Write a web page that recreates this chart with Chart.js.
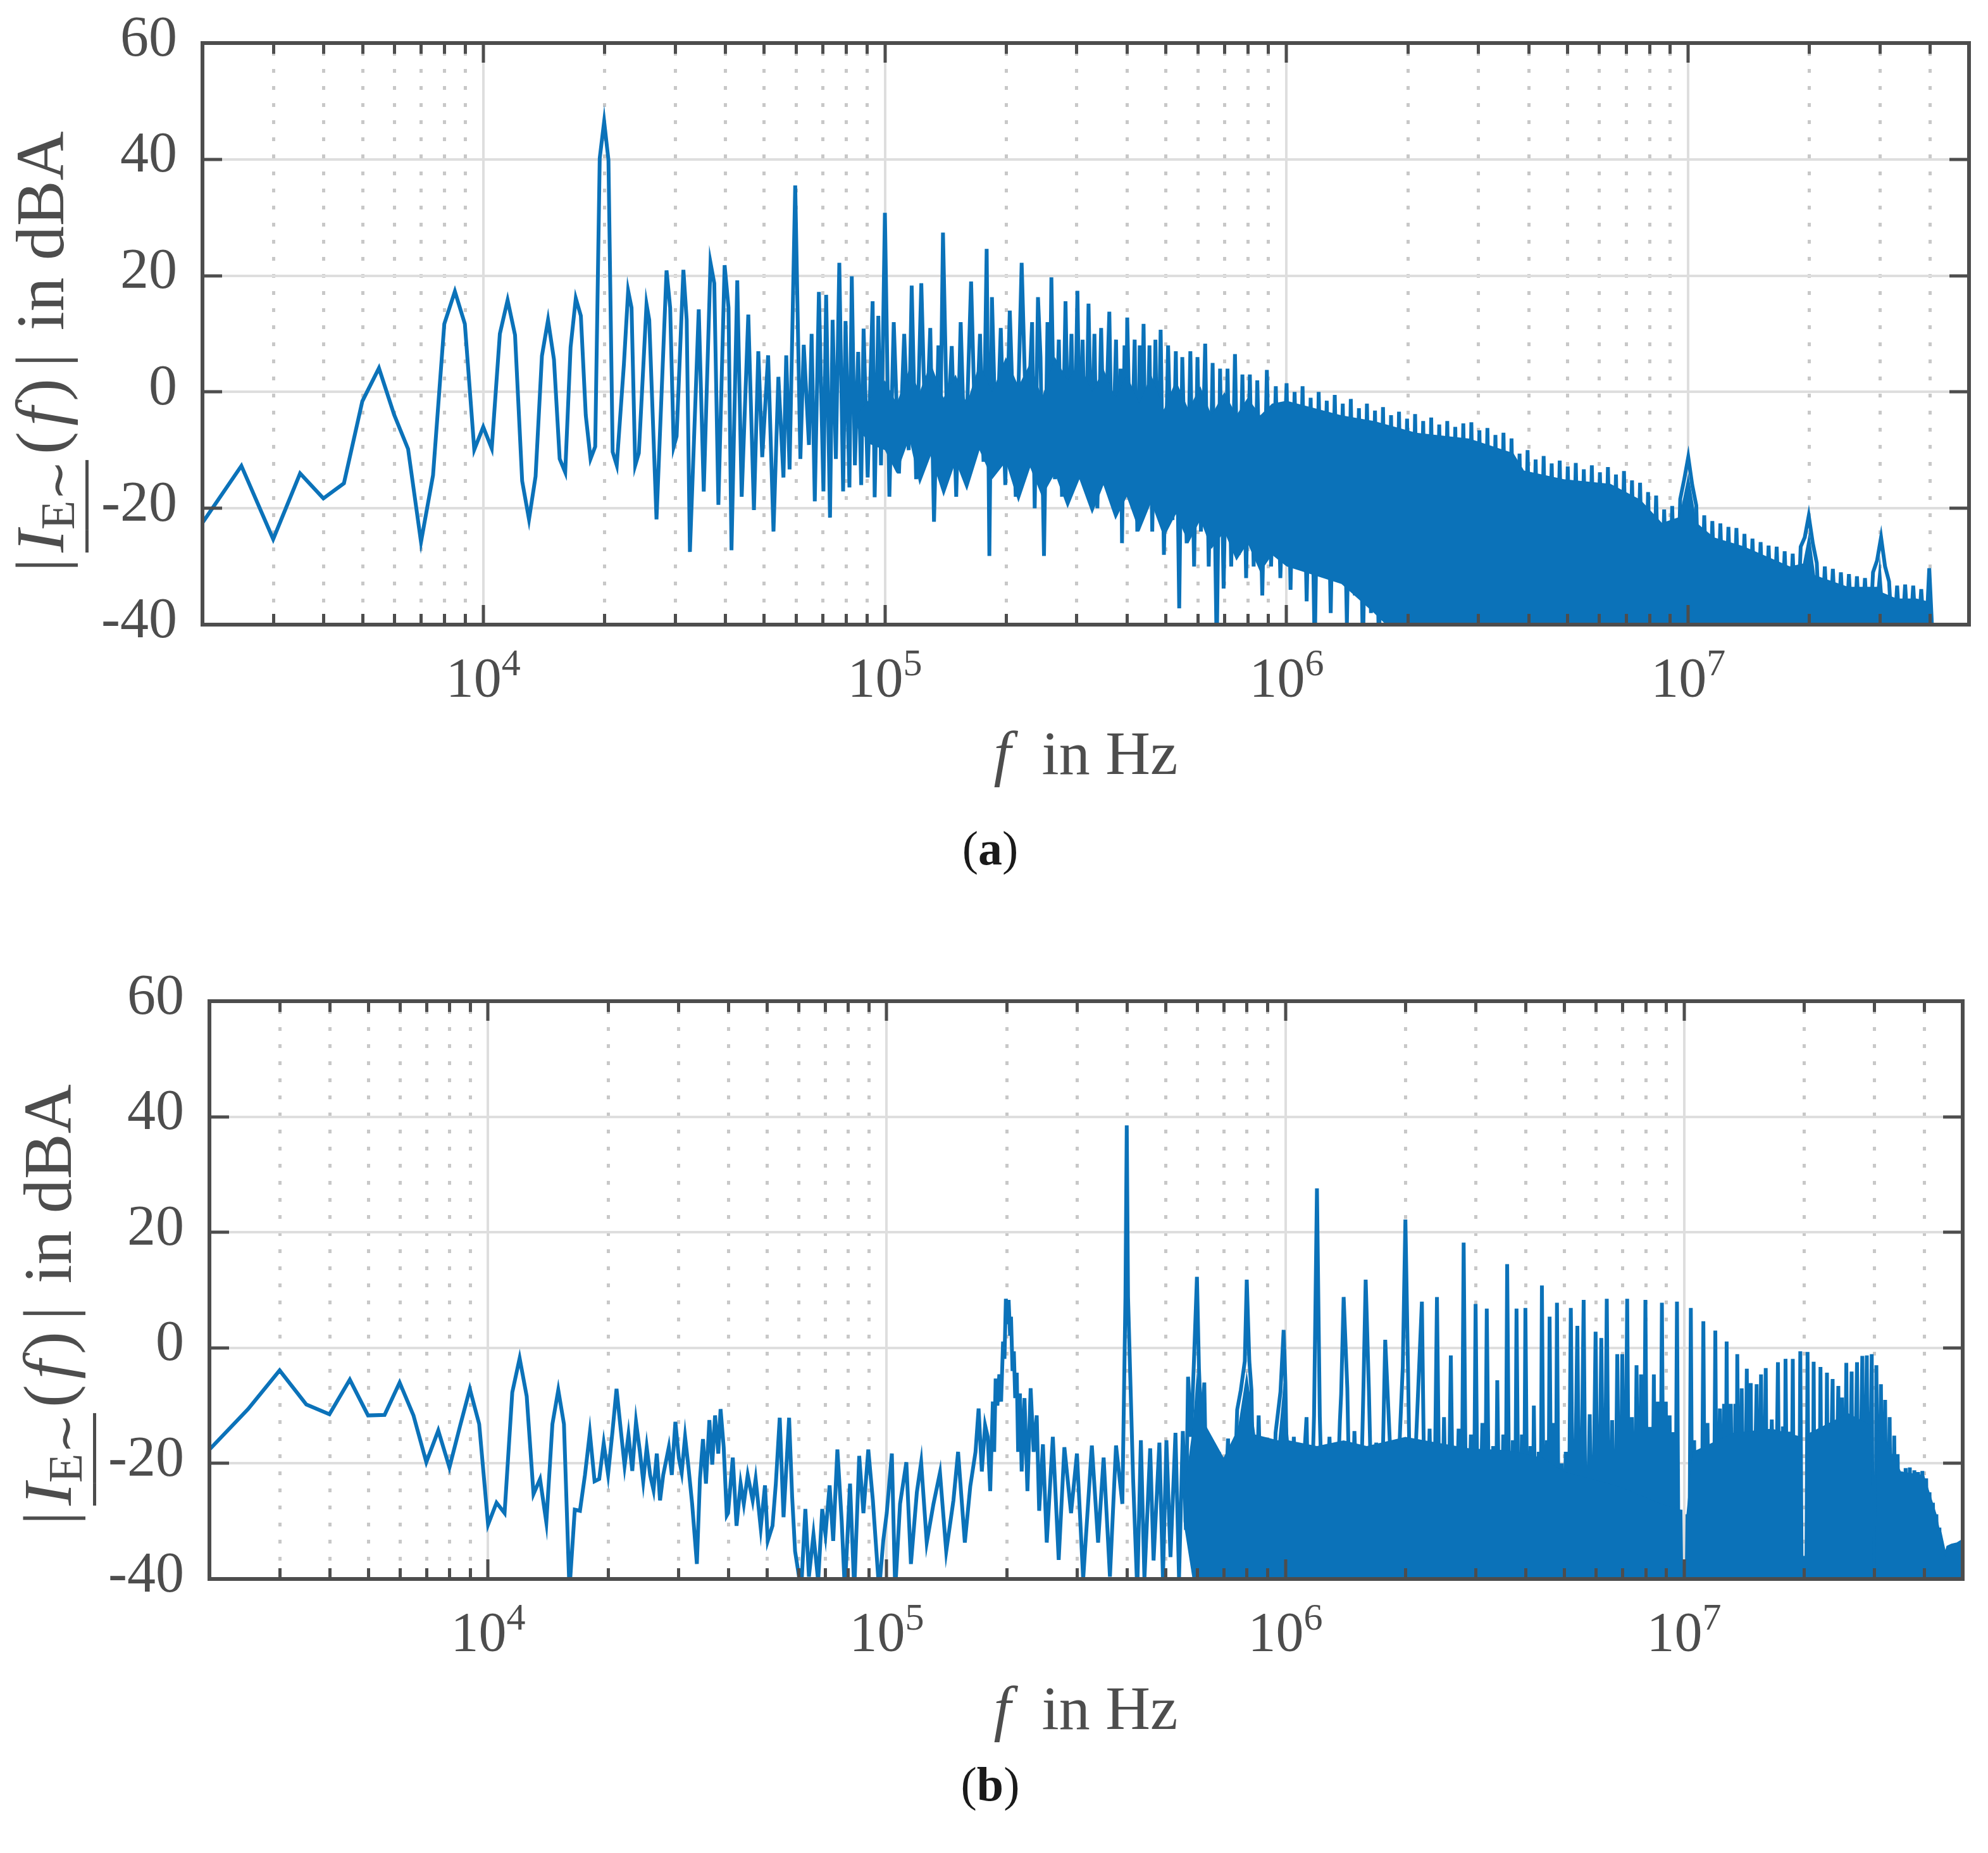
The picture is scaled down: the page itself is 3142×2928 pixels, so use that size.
<!DOCTYPE html>
<html>
<head>
<meta charset="utf-8">
<script src="https://cdn.jsdelivr.net/npm/chart.js"></script>
<style>
body { margin: 0; background: #fff; }
#page { position: relative; width: 3142px; height: 2928px; overflow: hidden; font-family: 'Liberation Serif', serif; color: #4d4d4d; }
canvas { position: absolute; left: 0; }
.ytitle { position: absolute; width: 1000px; height: 108px; line-height: 108px; font-size: 108px; text-align: center; white-space: nowrap; transform: rotate(-90deg); }
.ytitle sub { font-size: 70%; vertical-align: -0.22em; line-height: 0; }
.ytitle .m { margin: 0 9px; }
.ul { text-decoration: underline; text-decoration-thickness: 5px; text-underline-offset: 0.32em; text-decoration-skip-ink: none; }
.xtitle { position: absolute; width: 2000px; text-align: center; font-size: 98px; line-height: 98px; white-space: nowrap; }
.caption { position: absolute; width: 400px; text-align: center; font-size: 76px; line-height: 76px; color: #1a1a1a; }
</style>
</head>
<body>
<div id="page">
    <canvas id="chart-a" width="3142" height="1150" style="top:0px"></canvas>
    <canvas id="chart-b" width="3142" height="1200" style="top:1450px"></canvas>

    <div class="ytitle" style="left:-436px; top:506px"><span class="m">|</span><span class="ul"><i>I</i><sub>E∼</sub></span><span class="m">(</span><i>f</i><span class="m">)</span><span class="m">|</span> in dBA</div>
    <div class="xtitle" style="left:716px; top:1141px"><i>f</i>&nbsp; in Hz</div>
    <div class="caption" style="left:1365px; top:1302px">(<b>a</b>)</div>

    <div class="ytitle" style="left:-424px; top:2012px"><span class="m">|</span><span class="ul"><i>I</i><sub>E∼</sub></span><span class="m">(</span><i>f</i><span class="m">)</span><span class="m">|</span> in dBA</div>
    <div class="xtitle" style="left:716px; top:2650px"><i>f</i>&nbsp; in Hz</div>
    <div class="caption" style="left:1365px; top:2781px">(<b>b</b>)</div>
</div>

<script>
// frequencies in kHz, levels in dBA

// (a) measured trace
const freqA = [
    2, 2.5, 3, 3.5, 4, 4.5, 5, 5.5, 6, 6.5,
    7, 7.5, 8, 8.5, 9, 9.5, 10, 10.5, 11, 11.5,
    12, 12.5, 13, 13.5, 14, 14.5, 15, 15.5, 16, 16.5,
    17, 17.5, 18, 18.5, 19, 19.5, 20, 20.5, 21, 21.5,
    22.4, 22.95, 23.4, 23.9, 24.4, 25.5, 25.9, 27, 28.6, 29.2,
    29.8, 30.3, 31.5, 32.1, 32.7, 34.4, 35.4, 36.8, 37.6, 38.5,
    39.9, 40.8, 41.5, 42.9, 44, 45.7, 47.2, 48.4, 49.5, 51.2,
    52.8, 54.3, 55.9, 56.8, 57.9, 59.8, 61.6, 62.8, 64.7, 65.7,
    66.9, 68.5, 70.3, 71.4, 73, 74.1, 75.5, 77, 78.7, 79.8,
    81.6, 82.7, 84.2, 85.8, 87.3, 88.5, 90.6, 93.2, 94.3, 96.3,
    97.8, 100, 102.6, 105.2, 108.4, 111.7, 114.6, 116.6, 119.6, 123.2,
    126.4, 129.7, 132.5, 135.9, 137.5, 139.5, 143, 146.7, 150.5, 154.4,
    158.4, 163.9, 168.2, 172.5, 176, 179.2, 182, 184.7, 189.4, 194.3,
    199.4, 204.6, 211.7, 219, 225.7, 232.5, 236, 240.5, 244, 248.9,
    254, 257, 259.7, 265, 271, 276, 281.6, 286, 291.4, 296,
    301.5, 306, 310.6, 316, 321.3, 327, 332.4, 338, 345.4, 352,
    362, 368, 376.2, 382, 386, 389.3, 395, 398, 401.1, 410,
    418.6, 425, 431, 436, 440.5, 447, 455.7, 463, 471.5, 478,
    485.8, 495, 507, 520, 530, 540.4, 550, 564, 576, 588.5,
    600, 612, 627.1, 640, 654.5, 670, 683, 697, 712.8, 728,
    743.9, 760, 776.3, 793, 810.1, 828, 845.4, 870, 893.2, 915,
    940.1, 965, 1000, 1023, 1047, 1072, 1096, 1122, 1148, 1175,
    1202, 1230, 1259, 1288, 1318, 1349, 1380, 1413, 1445, 1479,
    1514, 1549, 1585, 1622, 1660, 1698, 1738, 1778, 1820, 1862,
    1905, 1950, 1995, 2042, 2089, 2138, 2188, 2239, 2291, 2344,
    2399, 2455, 2512, 2570, 2630, 2692, 2754, 2818, 2884, 2951,
    3020, 3090, 3162, 3236, 3311, 3388, 3467, 3548, 3631, 3715,
    3802, 3890, 3981, 4074, 4169, 4266, 4365, 4467, 4571, 4677,
    4786, 4898, 5012, 5129, 5248, 5370, 5495, 5623, 5754, 5888,
    6026, 6166, 6310, 6457, 6607, 6761, 6918, 7079, 7244, 7413,
    7586, 7762, 7943, 8128, 8318, 8511, 8710, 8913, 9120, 9333,
    9550, 9772, 10000, 10230, 10470, 10720, 10960, 11220, 11480, 11750,
    12020, 12300, 12590, 12880, 13180, 13490, 13800, 14130, 14450, 14790,
    15140, 15490, 15850, 16220, 16600, 16980, 17380, 17780, 18200, 18620,
    19050, 19500, 19950, 20420, 20890, 21380, 21880, 22390, 22910, 23440,
    23990, 24550, 25120, 25700, 26300, 26920, 27540, 28180, 28840, 29510,
    30200, 30900, 31620, 32360, 33110, 33880, 34670, 35480, 36310, 37150,
    38020, 38900, 39810, 40740
];
const levelA = [
    -22.5, -12.7, -25.3, -14, -18.3, -15.7, -1.6, 4.1, -3.9, -9.8,
    -25.8, -14.3, 11.7, 17.3, 11.7, -9.9, -6, -9.7, 10, 15.8,
    9.8, -15.3, -21.9, -14.5, 6.2, 12.4, 5.6, -11.5, -13.8, 7.7,
    16.1, 13.1, -4, -11.5, -9.4, 40.2, 46.5, 39.9, -10.3, -12.6,
    4.8, 17.4, 14.5, -12.6, -10.5, 15.1, 12.4, -21.9, 20.9, 14.5,
    -9.4, -7.6, 21, 12.4, -27.5, 14.2, -17.1, 22.2, 18.7, -19.4,
    21.8, 14.5, -27.2, 19.2, -18, 13.3, -20.3, 7, -11.2, 6.3,
    -24, 2.6, -14.7, 6.3, -13.3, 35.5, -11.5, 8.1, -9.1, 10,
    -18.8, 17.2, -17.1, 16.7, -21.6, 12.4, -11.5, 22.2, -17.1, 12.2,
    -16.4, 19.9, -12.6, 6.9, -16, 10.9, -14.7, 15.6, -18.1, 13.1,
    -12.6, 30.8, -18, 12, -14, 10, -10, 18.3, -15, 18.7,
    -10, 11, -22.3, 8, -6, 27.4, -8, 7.9, -18, 12,
    -14, 19, -10, 10, -12, 24.6, -28.2, 16.3, -12, 11,
    -16, 14, -18, 22.2, -10, 12, -20, 16.3, 6, -28.2,
    12, -8, 19.7, -15, 9, -18, 15.6, -10, 10, -14,
    17.4, -12, 9, -16, 15.2, -12, 10, -20, 11, -14,
    13.8, -16, 9, -20, 4, -26, 8, -14, 12.8, -18,
    9, -24, 8, -10, 11.7, -20, 8, -24, 9, -20,
    10.7, -28, 8, -22, 7, -37.2, 6, -26, 7, -30,
    6, -24, 8.3, -30, 5, -45, 4, -33.8, 4, -30,
    6.5, -28, 3, -32, 3, -30, 2, -35, 3.8, -30,
    1, -32, 1.5, -34, 0, -28, 1, -36, -1, -45,
    0, -30, -1.5, -38, -0.5, -32, -2, -40, -1.2, -35,
    -2.8, -45, -2, -38, -3.2, -45, -2.6, -45, -4, -45,
    -3.4, -45, -4.6, -45, -3.8, -45, -5, -45, -4.4, -45,
    -5.6, -45, -5, -45, -6, -45, -5.4, -45, -5.2, -45,
    -6.6, -45, -6.2, -45, -7.4, -45, -7, -45, -8, -45,
    -10.6, -45, -10, -45, -11.6, -45, -11, -45, -12.3, -45,
    -11.8, -45, -12.8, -45, -12.2, -45, -13.3, -45, -12.6, -45,
    -13.8, -45, -12.9, -45, -14.2, -45, -13.6, -45, -15.2, -45,
    -15.6, -45, -17.2, -45, -17.8, -45, -20.2, -45, -19.6, -45,
    -18.4, -15, -11.2, -16, -19.5, -45, -21.2, -45, -22.2, -45,
    -22.6, -45, -23.2, -45, -23.4, -45, -24.4, -45, -25.2, -45,
    -25.8, -45, -26.4, -45, -26.6, -45, -27.4, -45, -27.8, -45,
    -26.6, -25, -21.3, -26, -29.4, -45, -30, -45, -30.4, -45,
    -31, -45, -31.3, -45, -31.7, -45, -32, -45, -31, -29,
    -25, -30, -32.6, -45, -33.3, -45, -33.1, -45, -33.3, -45,
    -33.9, -45, -30.3, -45
];

// (a) dense part: upper and lower edge of the filled band
const bandFreqA = [
    85, 92, 100, 107, 115, 122, 130, 140, 150, 160,
    172, 185, 200, 215, 230, 246, 265, 285, 305, 328,
    350, 375, 400, 430, 460, 495, 530, 570, 610, 650,
    700, 750, 800, 860, 920, 1000, 1370, 1650, 2100, 2850,
    3670, 3900, 4900, 6400, 7600, 8600, 9500, 10000, 10500, 11600,
    13700, 17900, 19300, 20000, 20700, 25000, 29500, 30000, 30500, 33000,
    37000, 39500, 40000, 40800
];
const bandTopA = [
    -4, -1, 2, -2, 4, 0, 5, -1, 3, -2,
    5, 0, 6, 1, 5, -1, 6, 2, 5, 0,
    4, -1, 3, -2, 3, -3, 2, -3, 1, -4,
    0, -4, -1, -4, -2, -1.5, -4, -5, -7, -8,
    -10.5, -13.5, -15, -15.8, -18.5, -22.5, -21.5, -14, -22.5, -25,
    -26.5, -30, -29.5, -24, -31.5, -33.5, -33.5, -28, -34.5, -35.5,
    -35.5, -36, -33, -45
];
const bandBotA = [
    -6, -9, -10, -14, -8, -16, -11, -18, -12, -17,
    -10, -15, -12, -19, -13, -18, -14, -20, -15, -21,
    -16, -22, -18, -24, -19, -25, -21, -26, -22, -27,
    -24, -29, -26, -31, -28, -30, -33, -38, -45, -45,
    -45, -45, -45, -45, -45, -45, -45, -45, -45, -45,
    -45, -45, -45, -45, -45, -45, -45, -45, -45, -45,
    -45, -45, -45, -45
];

// (b) measured trace
const freqB = [
    2, 2.5, 3, 3.5, 4, 4.5, 5, 5.5, 6, 6.5,
    7, 7.5, 8, 8.5, 9, 9.5, 10, 10.5, 11, 11.5,
    12, 12.5, 13, 13.5, 14, 14.5, 15, 15.5, 16, 16.5,
    17, 17.5, 18, 18.5, 19, 19.5, 20, 20.5, 21, 21.5,
    22, 22.5, 23, 23.5, 24, 24.5, 25, 25.5, 26, 26.5,
    27, 27.5, 28.4, 28.9, 29.5, 30.1, 30.6, 31.2, 31.8, 32.5,
    33.4, 34, 34.6, 35.2, 35.9, 36.5, 37.1, 37.8, 38.3, 39,
    39.7, 40, 41.1, 42, 43, 43.8, 44.8, 46.1, 46.9, 48.3,
    49.5, 50.3, 51.7, 52.7, 53.9, 55.1, 56.9, 57.9, 58.9, 61,
    62.5, 63.8, 65.5, 67.3, 68.9, 70.2, 71.9, 73.4, 75.2, 77.1,
    78.5, 80.9, 82.9, 85.3, 87.4, 89.9, 92.3, 95.7, 98, 100,
    103, 105, 108, 112, 115, 119, 122, 126, 131, 136,
    141, 147, 151, 157, 162, 167, 170, 173.2, 176.5, 179.2,
    181.8, 184.6, 186, 187.6, 189.5, 191.6, 193.6, 195.8, 197.4, 199,
    200.9, 202.2, 203.9, 205, 206.8, 208.4, 210, 211.9, 213.6, 215.8,
    218, 221.6, 225.4, 229.6, 233.6, 237.8, 241.2, 246.5, 252, 261,
    270, 279, 290, 300, 311, 327, 339, 350, 363, 376,
    390, 397, 400, 403, 415, 425, 434, 443, 458, 467,
    483, 493, 503, 515, 530, 541, 553, 563, 570, 580,
    590, 600, 607, 616, 626, 639, 653, 667, 681, 694,
    718, 733, 757, 773, 791, 800, 812, 822, 838, 857,
    876, 902, 922, 945, 972, 990, 1000, 1020, 1050, 1070,
    1130, 1150, 1180, 1200, 1220, 1250, 1290, 1330, 1370, 1380,
    1400, 1430, 1460, 1490, 1530, 1570, 1590, 1620, 1660, 1690,
    1730, 1780, 1830, 1880, 1940, 1970, 2000, 2030, 2070, 2130,
    2200, 2250, 2300, 2350, 2400, 2450, 2500, 2550, 2600, 2650,
    2720, 2760, 2800, 2850, 2920, 2960, 3000, 3050, 3120, 3160,
    3200, 3260, 3320, 3360, 3400, 3460, 3520, 3560, 3600, 3660,
    3720, 3760, 3800, 3860, 3920, 3960, 4000, 4060, 4120, 4160,
    4200, 4260, 4320, 4360, 4400, 4460, 4530, 4560, 4600, 4660,
    4720, 4760, 4800, 4860, 4930, 4970, 5050, 5120, 5200, 5280,
    5400, 5480, 5600, 5680, 5800, 5880, 6000, 6100, 6200, 6300,
    6400, 6500, 6600, 6700, 6800, 6900, 7000, 7100, 7200, 7300,
    7400, 7500, 7600, 7700, 7800, 7900, 8000, 8100, 8200, 8300,
    8400, 8500, 8600, 8700, 8800, 8900, 9000, 9100, 9200, 9300,
    9400, 9500, 9600, 9700, 9800, 9860, 10140, 10200, 10300, 10400,
    10500, 10600, 10750, 10900, 11050, 11180, 11300, 11450, 11600, 11750,
    11850, 11980, 12100, 12300, 12450, 12600, 12700, 12790, 12900, 13100,
    13300, 13450, 13520, 13600, 13750, 13950, 14150, 14370, 14500, 14700,
    14850, 15210, 15400, 15600, 15800, 16030, 16200, 16600, 16900, 17200,
    17400, 17700, 17850, 17970, 18200, 18400, 18550, 18740, 18900, 19200,
    19400, 19570, 19750, 20250, 20410, 20600, 20800, 21000, 21140, 21300,
    21600, 21800, 21990, 22200, 22400, 22600, 22830, 23000, 23590, 23800,
    24380, 24600, 24900, 25200, 25530, 25800, 26330, 26500, 27160, 27400,
    28000, 28200, 28740, 29000, 29570, 29750, 30250, 30370, 30700, 31180,
    31500, 31940, 32300, 32790, 33100, 33670, 34000, 34340, 34700, 35020,
    35400, 35960, 36400, 36840, 37300, 37820, 38200, 38660, 39100, 39610,
    40000, 40490, 40900, 41280, 41700, 42110, 42500, 42950, 43300, 43710,
    44100, 44490, 45170, 45970, 46990, 48460, 49760, 50000
];
const levelB = [
    -17.6, -10.6, -3.9, -9.8, -11.5, -5.5, -11.7, -11.6, -6, -11.7,
    -19.8, -14.3, -20.7, -13.6, -7.1, -13.2, -30.6, -26.8, -28.6, -7.7,
    -1.8, -8.4, -25.3, -22.7, -30.2, -13.2, -7.3, -13.2, -42, -28,
    -28.2, -22, -14.7, -23.1, -22.7, -16.5, -21.9, -14.7, -7.1, -13.9,
    -20.4, -15, -21.3, -12.8, -17.6, -23.1, -17.2, -22, -24.6, -18.3,
    -26.4, -22, -17.2, -22, -12.8, -19.1, -21.6, -15.4, -20.5, -27,
    -37.4, -22.7, -15.8, -23.5, -12.5, -20.2, -11.7, -18.3, -10.6, -17.2,
    -29, -28.6, -19, -30.8, -23.5, -27, -22, -26.4, -22.7, -31.2,
    -23.8, -33.4, -30.8, -23.5, -12.1, -29.3, -12.1, -25.7, -35.2, -42,
    -27.9, -39.6, -32.3, -40.4, -27.9, -32.3, -23.8, -33.4, -17.6, -30,
    -42, -23.5, -42, -18.7, -28.6, -17.6, -26.4, -42, -33.4, -28.6,
    -18.3, -42, -27, -19.8, -37.4, -25, -19.8, -33.7, -27, -21.6,
    -35.2, -26.4, -18, -33.7, -24, -18, -10.5, -21.4, -13.4, -15.4,
    -24.8, -9.3, -18, -5.3, -10, -4.6, -9.3, 1.1, -1.9, 8.5,
    4.1, 8.3, 2.1, 5.4, -4, -0.6, -8.7, -4.3, -18, -7.9,
    -21.4, -8.7, -24.8, -7, -18, -11.7, -28.2, -16.7, -33.7, -15.4,
    -36.7, -17.2, -28.6, -18.3, -40, -16.9, -33.7, -19, -39.6, -16.9,
    -27, 8.8, 38.5, 8.8, -22.7, -42, -16, -40, -17.4, -36.8,
    -16.4, -40, -16, -36.2, -14.7, -40, -14.4, -31.5, -5, -15.4,
    -1.9, 12.3, -3.6, -14.7, -6, -40, -17.4, -36.8, -18, -40,
    -15.7, -40, -10.7, -7.3, -2.3, 11.8, -2.3, -7.3, -40, -11.7,
    -40, -17, -40, -14.7, -7.6, 3.1, -6, -40, -15.4, -40,
    -12, -40, -11.7, 27.6, -12, -40, -15.4, -40, -12.7, -8,
    8.8, -7, -40, -14.4, -40, -6.6, 11.8, -7.4, -40, -16.4,
    -40, 1.4, -17, -40, -14, -3.3, 22.2, -3.3, -40, -15,
    8, -45, -14, -45, 8.8, -45, -12, -45, -1.3, -45,
    -14, -45, 18.2, -45, -15, -45, 7.6, -45, -13, -45,
    6.8, -45, -17, -45, -5.6, -45, -15, -45, 14.5, -45,
    -16, -45, 6.8, -45, -15, -45, 6.9, -45, -17, -45,
    -10, -45, -18, -45, 10.8, -45, -16, -45, 5.4, -45,
    -13, -45, 7.8, -45, -20, -45, -18, -45, 6.9, -45,
    3.8, -45, 8.3, -45, -11.5, -45, 2.8, -45, 1.7, -45,
    8.5, -45, -12.5, -45, -1.1, -45, -1.1, -45, 8.5, -45,
    -12, -45, -3, -45, -4.6, -45, 8.3, -45, -13.7, -45,
    -4.6, -45, -9.3, -45, 7.8, -45, -9.3, -45, -11.7, -45,
    -14.6, -45, 8, -45, -28, -45, -45, -28.8, -45, 6.9,
    -45, -16, -45, -20.7, -45, 4.6, -45, -13, -45, -20.7,
    -45, 3, -45, -10.5, -45, -9.7, -45, 1.1, -45, -9.7,
    -45, -9.7, -45, -1.1, -45, -7, -45, -3.6, -45, -6.1,
    -45, -6.3, -45, -4.6, -45, -3.5, -45, -12.4, -45, -2.5,
    -45, -13.6, -45, -1.9, -45, -14.5, -45, -1.9, -45, -20.7,
    -45, -0.6, -45, -45, -0.7, -45, -20.9, -45, -2.4, -45,
    -15.4, -45, -3.3, -45, -15.4, -45, -4.3, -45, -5.4, -45,
    -6.6, -45, -8.6, -45, -2.6, -45, -4.1, -45, -2.5, -45,
    -1.4, -45, -1.3, -45, -1.1, -45, -45, -3, -45, -6.3,
    -45, -9, -45, -12, -45, -15.2, -45, -18.4, -45, -21.4,
    -45, -20.8, -45, -20.7, -45, -21.2, -45, -21.5, -45, -21.3,
    -45, -22.6, -45, -25, -45, -26.8, -45, -28.8, -45, -31.1,
    -45, -34.2, -36.3, -34.5, -34.2, -34, -33.5, -33.5
];

// (b) dense part: upper and lower edge of the filled band
const bandFreqB = [
    555, 585, 600, 615, 700, 760, 800, 840, 960, 990,
    1020, 1200, 1400, 1600, 2000, 2900, 3600, 4400, 5000, 6900,
    8600, 9800, 9860, 9900, 10100, 10140, 10500, 13300, 16600, 19750,
    19800, 20200, 20250, 25800, 29400, 29750, 30250, 30400, 32000, 35000,
    40000, 41300, 42100, 43000, 43700, 44500, 45200, 46000, 47000, 48500,
    50000
];
const bandTopB = [
    -26, -14, -4, -12, -19, -14, -4, -15, -16, -6,
    -16, -17, -16, -17, -15.4, -17.4, -17.7, -19, -21.4, -24,
    -26.8, -28, -30, -45, -45, -28.8, -18, -14.7, -14, -15.4,
    -36, -36, -15, -11.3, -13.4, -40, -40, -14, -16, -21.4,
    -22, -25, -26.8, -28.8, -31.1, -34.2, -36.3, -34.5, -34.2, -34,
    -33.5
];
const bandBotB = [
    -30, -40, -45, -45, -45, -45, -45, -45, -45, -45,
    -45, -45, -45, -45, -45, -45, -45, -45, -45, -45,
    -45, -45, -45, -45, -45, -45, -45, -45, -45, -45,
    -45, -45, -45, -45, -45, -45, -45, -45, -45, -45,
    -45, -45, -45, -45, -45, -45, -45, -45, -45, -45,
    -45
];

// axes
const xMin = 2000;
const xMax = 5e7;
const xDecades = [4, 5, 6, 7];
const yTicks = [-40, -20, 0, 20, 40, 60];

const BLUE = '#0b72b9';
const AXIS = '#4d4d4d';
const GRID = '#dedede';
const MINOR_GRID = '#c8c8c8';

function points(freqs, levels) {
    return freqs.map(function (f, i) {
        return { x: f * 1000, y: levels[i] };
    });
}

function minorFreqs() {
    const list = [];
    for (let e = 3; e <= 7; e++) {
        for (let m = 2; m <= 9; m++) {
            const f = m * Math.pow(10, e);
            if (f > xMin && f < xMax) list.push(f);
        }
    }
    return list;
}

const axesBox = {
    id: 'axesBox',
    beforeDatasetsDraw(chart) {
        const ctx = chart.ctx;
        const a = chart.chartArea;
        const x = chart.scales.x;
        const y = chart.scales.y;
        ctx.save();
        ctx.lineWidth = 5;
        ctx.strokeStyle = MINOR_GRID;
        ctx.setLineDash([6, 21]);
        minorFreqs().forEach(function (f) {
            const px = Math.round(x.getPixelForValue(f)) + 0.5;
            ctx.beginPath();
            ctx.moveTo(px, a.top + 14);
            ctx.lineTo(px, a.bottom);
            ctx.stroke();
        });
        ctx.setLineDash([]);
        ctx.lineWidth = 4;
        ctx.strokeStyle = GRID;
        xDecades.forEach(function (e) {
            const px = Math.round(x.getPixelForValue(Math.pow(10, e)));
            ctx.beginPath();
            ctx.moveTo(px, a.top);
            ctx.lineTo(px, a.bottom);
            ctx.stroke();
        });
        yTicks.forEach(function (v) {
            const py = Math.round(y.getPixelForValue(v));
            ctx.beginPath();
            ctx.moveTo(a.left, py);
            ctx.lineTo(a.right, py);
            ctx.stroke();
        });
        ctx.restore();
    },
    afterDraw(chart) {
        const ctx = chart.ctx;
        const a = chart.chartArea;
        const x = chart.scales.x;
        const y = chart.scales.y;
        ctx.save();
        ctx.strokeStyle = AXIS;
        ctx.lineWidth = 5;
        minorFreqs().forEach(function (f) {
            const px = Math.round(x.getPixelForValue(f)) + 0.5;
            ctx.beginPath();
            ctx.moveTo(px, a.bottom);
            ctx.lineTo(px, a.bottom - 17);
            ctx.moveTo(px, a.top);
            ctx.lineTo(px, a.top + 17);
            ctx.stroke();
        });
        xDecades.forEach(function (e) {
            const px = Math.round(x.getPixelForValue(Math.pow(10, e)));
            ctx.beginPath();
            ctx.moveTo(px, a.bottom);
            ctx.lineTo(px, a.bottom - 31);
            ctx.moveTo(px, a.top);
            ctx.lineTo(px, a.top + 31);
            ctx.stroke();
        });
        yTicks.forEach(function (v) {
            const py = Math.round(y.getPixelForValue(v));
            ctx.beginPath();
            ctx.moveTo(a.left, py);
            ctx.lineTo(a.left + 31, py);
            ctx.moveTo(a.right, py);
            ctx.lineTo(a.right - 31, py);
            ctx.stroke();
        });
        ctx.lineWidth = 6;
        ctx.strokeRect(a.left, a.top, a.right - a.left, a.bottom - a.top);

        ctx.fillStyle = AXIS;
        ctx.font = '90px "Liberation Serif"';
        ctx.textAlign = 'right';
        ctx.textBaseline = 'middle';
        yTicks.forEach(function (v) {
            ctx.fillText(String(v), a.left - 40, y.getPixelForValue(v) - 4);
        });

        ctx.textAlign = 'left';
        ctx.textBaseline = 'alphabetic';
        xDecades.forEach(function (e) {
            const px = x.getPixelForValue(Math.pow(10, e));
            ctx.font = '88px "Liberation Serif"';
            const w1 = ctx.measureText('10').width;
            ctx.font = '60px "Liberation Serif"';
            const w2 = ctx.measureText(String(e)).width;
            const x0 = px - (w1 + w2) / 2;
            ctx.font = '88px "Liberation Serif"';
            ctx.fillText('10', x0, a.bottom + 113);
            ctx.font = '60px "Liberation Serif"';
            ctx.fillText(String(e), x0 + w1, a.bottom + 80);
        });
        ctx.restore();
    }
};

function makeChart(id, trace, band, pad) {
    return new Chart(document.getElementById(id), {
        type: 'line',
        data: {
            datasets: [
                {
                    data: band.top,
                    fill: '+1',
                    backgroundColor: BLUE,
                    borderWidth: 0,
                    pointRadius: 0,
                    clip: 0
                },
                {
                    data: band.bottom,
                    fill: false,
                    borderWidth: 0,
                    pointRadius: 0,
                    clip: 0
                },
                {
                    data: trace,
                    fill: false,
                    borderColor: BLUE,
                    borderWidth: 6,
                    pointRadius: 0,
                    clip: 0
                }
            ]
        },
        options: {
            responsive: false,
            animation: false,
            devicePixelRatio: 1,
            layout: { padding: pad },
            elements: { line: { tension: 0 } },
            plugins: {
                legend: { display: false },
                tooltip: { enabled: false }
            },
            scales: {
                x: { type: 'logarithmic', min: xMin, max: xMax, display: false },
                y: { type: 'linear', min: -40, max: 60, display: false }
            }
        },
        plugins: [axesBox]
    });
}

const chart_a = makeChart('chart-a', points(freqA, levelA), {
    top: points(bandFreqA, bandTopA),
    bottom: points(bandFreqA, bandBotA)
}, { left: 320, right: 30, top: 68, bottom: 163 });

const chart_b = makeChart('chart-b', points(freqB, levelB), {
    top: points(bandFreqB, bandTopB),
    bottom: points(bandFreqB, bandBotB)
}, { left: 331, right: 40, top: 132, bottom: 155 });
</script>
</body>
</html>
